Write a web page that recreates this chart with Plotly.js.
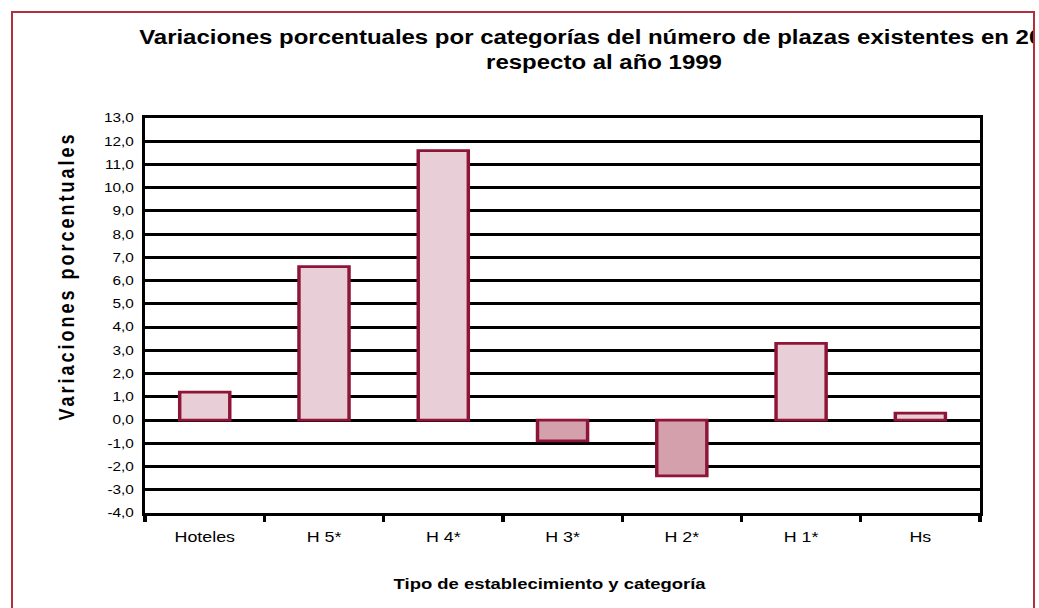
<!DOCTYPE html>
<html><head><meta charset="utf-8">
<script src="https://cdn.plot.ly/plotly-3.0.1.min.js"></script>
<style>
html,body{margin:0;padding:0;background:#fff;overflow:hidden;width:1039px;height:608px;}
#clip{position:absolute;left:0;top:0;width:1033px;height:608px;overflow:hidden;}
#chart{position:absolute;left:0;top:0;width:845px;height:608px;transform:scaleX(1.2296);transform-origin:0 0;}
#frame{position:absolute;left:11px;top:11px;width:1020px;height:640px;border:2px solid #B22F3E;pointer-events:none;}
</style></head><body>
<div id="clip"><div id="chart"></div></div>
<div id="frame"></div>
<script>
const categories = ['Hoteles', 'H 5*', 'H 4*', 'H 3*', 'H 2*', 'H 1*', 'Hs'];
const variaciones = [1.2, 6.6, 11.6, -0.9, -2.4, 3.3, 0.3];
const yTickValues = [-4, -3, -2, -1, 0, 1, 2, 3, 4, 5, 6, 7, 8, 9, 10, 11, 12, 13];
const yTickLabels = yTickValues.map(v => v.toFixed(1).replace('.', ','));
const chartTitle = 'Variaciones porcentuales por categorías del número de plazas existentes en 2000<br>respecto al año 1999';
const yTitle = 'Variaciones porcentuales';
const xTitle = 'Tipo de establecimiento y categoría';

const posFill = '#E8CED6', negFill = '#D3A0AC', edge = '#8E1538';
const FONT = 'Liberation Sans, Arial, sans-serif';

const trace = {
  type: 'bar',
  x: categories,
  y: variaciones,
  marker: {
    color: variaciones.map(v => v < 0 ? negFill : posFill),
    line: {color: edge, width: 2.8}
  },
  hoverinfo: 'none'
};

const layout = {
  width: 845, height: 608,
  margin: {l: 118, r: 48, t: 118, b: 95},
  paper_bgcolor: 'rgba(0,0,0,0)',
  plot_bgcolor: '#fff',
  showlegend: false,
  bargap: 0.58,
  font: {family: FONT, color: '#000'},
  xaxis: {
    type: 'category',
    tickson: 'boundaries',
    ticks: 'outside', ticklen: 6, tickwidth: 2.6, tickcolor: '#000',
    ticklabelstandoff: 9,
    showgrid: false,
    showline: true, linecolor: '#000', linewidth: 2.6, mirror: true,
    tickfont: {family: FONT, size: 14.5, color: '#000'},
    fixedrange: true
  },
  yaxis: {
    range: [-4, 13],
    tickmode: 'array', tickvals: yTickValues, ticktext: yTickLabels,
    ticks: '', ticklabelstandoff: 4,
    showgrid: true, gridcolor: '#000', gridwidth: 3,
    zeroline: true, zerolinecolor: '#000', zerolinewidth: 3,
    showline: true, linecolor: '#000', linewidth: 2.6, mirror: true,
    tickfont: {family: FONT, size: 12.5, color: '#000'},
    fixedrange: true
  },
  annotations: [
    {
      text: '<b>' + chartTitle + '</b>',
      xref: 'paper', yref: 'paper', x: (491.5 - 118) / 679, y: (513 - 24) / 395,
      xanchor: 'center', yanchor: 'top', showarrow: false, align: 'center',
      font: {family: FONT, size: 19.5, color: '#000'}
    },
    {
      text: '<b>' + yTitle + '</b>', textangle: -90,
      xref: 'paper', yref: 'paper', x: (54.5 - 118) / 679, y: (513 - 276) / 395,
      xanchor: 'center', yanchor: 'middle', showarrow: false,
      font: {family: FONT, size: 18, color: '#000'}
    },
    {
      text: '<b>' + xTitle + '</b>',
      xref: 'paper', yref: 'paper', x: (447.3 - 118) / 679, y: (513 - 583) / 395,
      xanchor: 'center', yanchor: 'middle', showarrow: false,
      font: {family: FONT, size: 15, color: '#000'}
    }
  ]
};

Plotly.newPlot('chart', [trace], layout, {displayModeBar: false, staticPlot: true}).then(() => {
  document.querySelectorAll('#chart .annotation-text').forEach(t => {
    if (t.textContent === yTitle) t.style.letterSpacing = '3px';
  });
});
</script>
</body></html>
